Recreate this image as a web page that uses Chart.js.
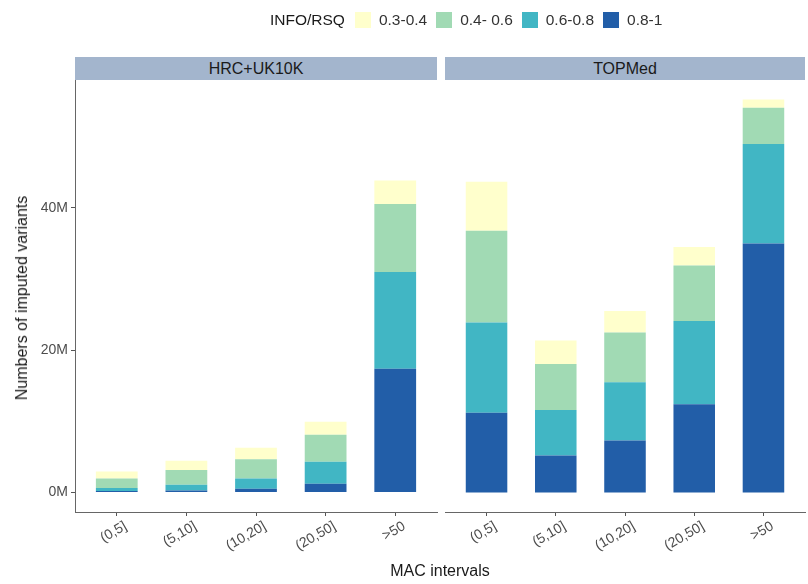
<!DOCTYPE html>
<html>
<head>
<meta charset="utf-8">
<script src="https://cdn.jsdelivr.net/npm/chart.js@4/dist/chart.umd.min.js"></script>
<style>
  body { margin: 0; background: #fff; font-family: "Liberation Sans", Arial, sans-serif; }
  #wrap { position: relative; width: 808px; height: 584px; overflow: hidden; }
  canvas { position: absolute; top: 0; }
  #leftCanvas { left: 0; }
  #rightCanvas { left: 440px; }
  .strip { position: absolute; top: 57px; height: 23px; background: #a3b5cd; color: #1a1a1a;
           font-size: 16px; line-height: 23px; text-align: center; }
  .legend { position: absolute; top: 10px; left: 270px; height: 20px; display: flex; align-items: center;
            font-size: 15.5px; color: #1a1a1a; white-space: nowrap; }
  .legend .title { margin-right: 10px; }
  .legend .key { width: 16px; height: 16px; margin-right: 8px; }
  .legend .lab { margin-right: 9px; color: #333; }
  .xtitle { position: absolute; top: 562px; left: 0; width: 880px; text-align: center; font-size: 16px; color: #1a1a1a; }
  .ytitle { position: absolute; left: 22px; top: 298px; font-size: 16px; color: #1a1a1a; white-space: nowrap;
            transform: translate(-50%, -50%) rotate(-90deg); }
</style>
</head>
<body>
<div id="wrap">
  <canvas id="leftCanvas" width="440" height="584"></canvas>
  <canvas id="rightCanvas" width="368" height="584"></canvas>
  <div class="legend" id="legend"></div>
  <div class="strip" style="left:75px;width:362px;">HRC+UK10K</div>
  <div class="strip" style="left:445px;width:360px;">TOPMed</div>
  <div class="ytitle">Numbers of imputed variants</div>
  <div class="xtitle">MAC intervals</div>
</div>
<script>
// MAC interval categories and INFO/RSQ bins (values in millions of variants)
const macIntervals = ['(0,5]', '(5,10]', '(10,20]', '(20,50]', '>50'];
const rsqBins = ['0.3-0.4', '0.4- 0.6', '0.6-0.8', '0.8-1'];
const binColors = ['#ffffcc', '#a1dab4', '#41b6c4', '#225ea8'];

const hrc_08_1 = [0.2, 0.25, 0.5, 1.2, 17.4];
const hrc_06_08 = [0.4, 0.83, 1.45, 3.1, 13.6];
const hrc_04_06 = [1.35, 2.06, 2.72, 3.8, 9.55];
const hrc_03_04 = [1.0, 1.32, 1.6, 1.83, 3.3];

const topmed_08_1 = [11.2, 5.2, 7.3, 12.4, 35.0];
const topmed_06_08 = [12.7, 6.4, 8.2, 11.7, 14.0];
const topmed_04_06 = [12.9, 6.47, 7.0, 7.8, 5.1];
const topmed_03_04 = [6.9, 3.3, 3.0, 2.6, 1.15];

const yTicks = [0, 20, 40];
const yMin = -2.76, yMax = 58.0;

// legend
const legend = document.getElementById('legend');
legend.innerHTML = '<span class="title">INFO/RSQ</span>' +
  rsqBins.map((b, i) => `<span class="key" style="background:${binColors[i]}"></span><span class="lab">${b}</span>`).join('');

const font = { family: '"Liberation Sans", Arial, sans-serif', size: 14 };

function makeDatasets(series) {
  // stack order bottom-up: 0.8-1, 0.6-0.8, 0.4-0.6, 0.3-0.4
  return [3, 2, 1, 0].map(k => ({
    label: rsqBins[k],
    data: series[k].map((v, i) => ({ x: i, y: v })),
    backgroundColor: binColors[k],
    borderWidth: 0,
    barPercentage: 0.6,
    categoryPercentage: 1.0
  }));
}

function makeChart(id, series, showY, pad) {
  return new Chart(document.getElementById(id), {
    type: 'bar',
    data: { datasets: makeDatasets(series) },
    options: {
      responsive: false,
      animation: false,
      layout: { padding: { top: 80, bottom: 0, left: pad.left, right: pad.right } },
      plugins: { legend: { display: false }, tooltip: { enabled: false } },
      scales: {
        x: {
          type: 'linear',
          stacked: true,
          offset: false,
          min: -0.6,
          max: 4.6,
          afterBuildTicks: s => { s.ticks = macIntervals.map((_, i) => ({ value: i })); },
          afterFit: s => { s.height = 72; },
          ticks: {
            autoSkip: false,
            minRotation: 30,
            maxRotation: 30,
            padding: 2,
            labelOffset: 9,
            color: '#4d4d4d',
            font: font,
            callback: v => macIntervals[v]
          },
          grid: { offset: false, drawOnChartArea: false, tickLength: 4, color: '#555', tickColor: '#555' },
          border: { display: true, color: '#666', width: 1 }
        },
        y: {
          display: showY,
          stacked: true,
          min: yMin,
          max: yMax,
          afterBuildTicks: s => { s.ticks = yTicks.map(v => ({ value: v })); },
          afterFit: s => { if (showY) s.width = 75; },
          ticks: { color: '#4d4d4d', font: font, padding: 3, callback: v => v + 'M' },
          grid: { drawOnChartArea: false, tickLength: 4, color: '#555', tickColor: '#555' },
          border: { display: true, color: '#666', width: 1 }
        }
      }
    }
  });
}

makeChart('leftCanvas', [hrc_03_04, hrc_04_06, hrc_06_08, hrc_08_1], true, { left: 0, right: 3 });
makeChart('rightCanvas', [topmed_03_04, topmed_04_06, topmed_06_08, topmed_08_1], false, { left: 5, right: 3 });
</script>
</body>
</html>
